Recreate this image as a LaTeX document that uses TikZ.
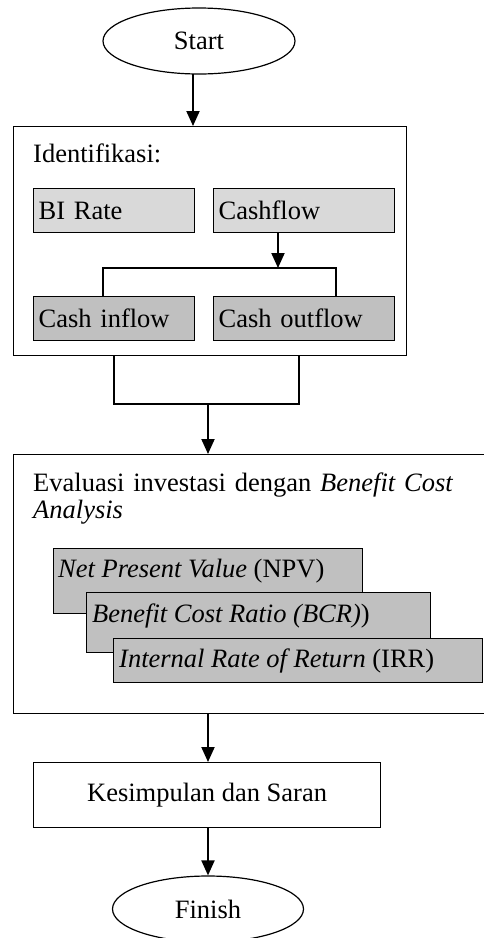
\documentclass[tikz,border=0pt]{standalone}
\usepackage{fontspec}
\setmainfont{Liberation Serif}
\usetikzlibrary{arrows.meta,shapes.geometric}
\definecolor{lightg}{HTML}{D9D9D9}
\definecolor{midg}{HTML}{C0C0C0}
\begin{document}
\begin{tikzpicture}[x=1pt,y=-1pt,
  every node/.style={font=\fontsize{26.5}{27.5}\selectfont},
  box/.style={draw, line width=1.2pt, inner sep=0pt, anchor=north west},
  lbox/.style={box, align=left, inner xsep=5pt, inner ysep=0pt},
  txt/.style={inner sep=0pt, anchor=base west},
  oval/.style={draw, ellipse, line width=1.2pt, inner sep=0pt, fill=white},
  arr/.style={line width=2pt, -{Triangle[length=15pt,width=13pt]}},
  ln/.style={line width=1.2pt}]
\clip (0,0) rectangle (484,938);
\fill[white] (0,0) rectangle (484,938);

% Start
\node[oval, minimum width=192pt, minimum height=66pt] (start) at (199,41) {Start};

% Identification block
\node[box, minimum width=393pt, minimum height=229pt] (ident) at (13,126) {};
\node[txt] (identT) at (33,162) {Identifikasi:};
\node[lbox, fill=lightg, text width=151pt, minimum height=44pt] (bi) at (33,188) {BI Rate};
\node[lbox, fill=lightg, text width=171pt, minimum height=44pt] (cf) at (213,188) {Cashflow};
\node[lbox, fill=midg, text width=151pt, minimum height=44pt] (inflow) at (33,296) {Cash inflow};
\node[lbox, fill=midg, text width=171pt, minimum height=44pt] (outflow) at (213,296) {Cash outflow};

\coordinate (b) at (278,268);
\coordinate (bl) at (103,268);
\coordinate (br) at (336,268);
\draw[arr] (cf.south -| b) -- (b);
\draw[ln] (inflow.north -| bl) -- (bl) -- (br) -- (outflow.north -| br);

\coordinate (jl) at (114,404);
\coordinate (jr) at (299,404);
\coordinate (j) at (208,404);
\draw[ln] (ident.south -| jl) -- (jl) -- (jr) -- (ident.south -| jr);

% Evaluation block
\node[box, minimum width=477pt, minimum height=259pt] (eval) at (13,454) {};
\node[txt, text width=440pt, align=left] (evalT) at (33,491) {Evaluasi investasi dengan \textit{Benefit Cost}\\ \textit{Analysis}};
\node[box, fill=midg, minimum width=309pt, minimum height=65pt] (npv) at (53,548) {};
\node[txt] (npvT) at (58,577) {\textit{Net Present Value} (NPV)};
\node[box, fill=midg, minimum width=344pt, minimum height=60pt] (bcr) at (86,592) {};
\node[txt] (bcrT) at (92,622) {\textit{Benefit Cost Ratio (BCR)})};
\node[box, fill=midg, minimum width=369pt, minimum height=44pt] (irr) at (113,638) {};
\node[txt] (irrT) at (119,667) {\textit{Internal Rate of Return} (IRR)};

% Conclusion and finish
\node[box, minimum width=347pt, minimum height=65pt] (kes) at (33,762) {Kesimpulan dan Saran};
\node[oval, minimum width=191pt, minimum height=66pt] (finish) at (208,909) {Finish};

% Connectors
\coordinate (s) at (193,74);
\draw[arr] (s) -- (ident.north -| s);
\draw[arr] (j) -- (eval.north -| j);
\draw[arr] (eval.south -| j) -- (kes.north -| j);
\draw[arr] (kes.south -| j) -- (finish.north -| j);
\end{tikzpicture}
\end{document}
